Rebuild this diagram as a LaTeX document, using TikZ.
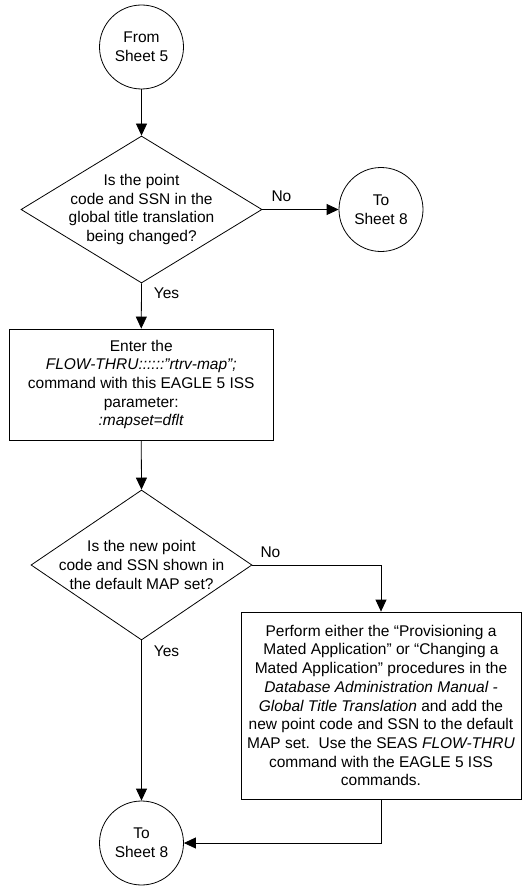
\documentclass[tikz,border=0pt]{standalone}
\usepackage{fontspec}
\setmainfont{Liberation Sans}
\usetikzlibrary{shapes.geometric,arrows.meta}
\begin{document}
\begin{tikzpicture}[x=1pt,y=-1pt,
  font=\fontsize{15.5}{18.7}\selectfont,
  conn/.style={draw, line width=0.8pt, -{Triangle[length=12pt,width=11pt]}},
  line/.style={draw, line width=0.8pt},
  term/.style={circle, draw, line width=0.8pt, minimum size=84pt, inner sep=0pt, align=center},
  decision/.style={diamond, draw, line width=0.8pt, inner sep=0pt},
  procbox/.style={rectangle, draw, line width=0.8pt, inner sep=0pt, align=center},
  txt/.style={align=center, inner sep=0pt},
  lbl/.style={inner sep=0pt}]
\useasboundingbox (0,0) rectangle (523,888);

\node[term] (from5) at (141.5,47) {From\\Sheet 5};
\node[decision, minimum width=241pt, minimum height=147pt] (d1) at (141.5,209.5) {};
\node[txt] (d1t) at (d1.center) {Is the point\\code and SSN in the\\global title translation\\being changed?};
\node[term] (to8a) at (381,209.5) {To\\Sheet 8};

\node[procbox, minimum width=263.5pt, minimum height=111pt] (enter) at (141.25,384.5)
  {Enter the\\\textit{FLOW-THRU::::::"rtrv-map";}\\command with this EAGLE 5 ISS\\parameter:\\\textit{:mapset=dflt}};

\node[decision, minimum width=221pt, minimum height=150pt] (d2) at (141.5,565) {};
\node[txt] (d2t) at (d2.center) {Is the new point\\code and SSN shown in\\the default MAP set?};

\node[procbox, minimum width=280pt, minimum height=187pt] (perf) at (381,705.5)
  {Perform either the “Provisioning a\\Mated Application” or “Changing a\\Mated Application” procedures in the\\\textit{Database Administration Manual -}\\\textit{Global Title Translation} and add the\\new point code and SSN to the default\\MAP set.\ \ Use the SEAS \textit{FLOW-THRU}\\command with the EAGLE 5 ISS\\commands.};

\node[term] (to8b) at (141.5,843) {To\\Sheet 8};

\draw[conn] (from5) -- (d1);
\draw[conn] (d1.east) -- node[lbl, pos=0.25, anchor=south, yshift=7pt] (no1) {No} (to8a);
\draw[conn] (d1.south) -- node[lbl, pos=0.22, anchor=west, xshift=12pt] (yes1) {Yes} (enter.north);
\draw[conn] (enter.south) -- (d2.north);
\draw[conn] (d2.east) -| node[lbl, pos=0.03, anchor=south west, yshift=7pt] (no2) {No} (perf.north);
\draw[conn] (d2.south) -- node[lbl, pos=0.07, anchor=west, xshift=12pt] (yes2) {Yes} (to8b.north);
\draw[conn] (perf.south) |- (to8b.east);
\end{tikzpicture}
\end{document}
